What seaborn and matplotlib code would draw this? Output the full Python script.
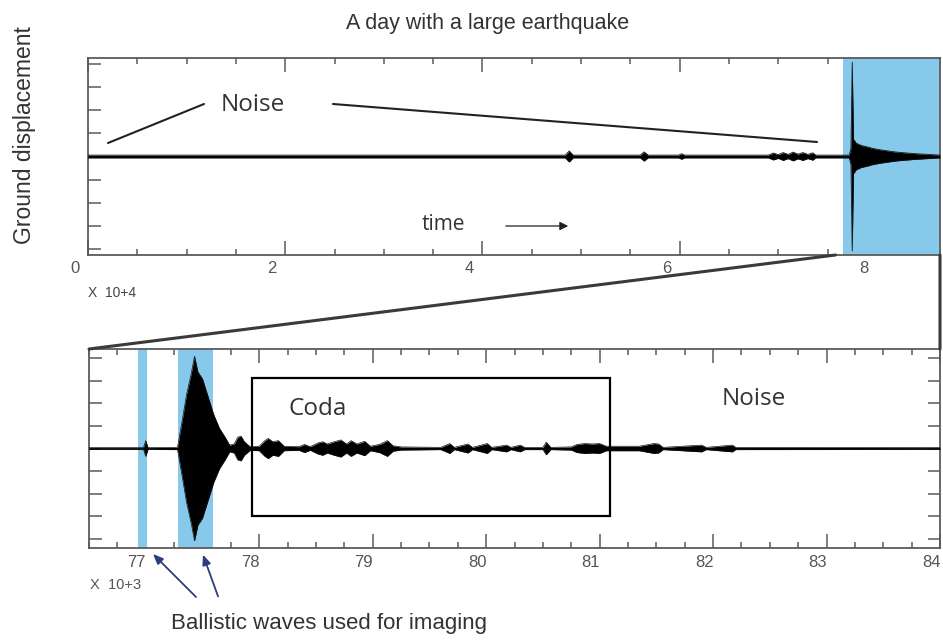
import numpy as np
import pandas as pd
import matplotlib
matplotlib.use("Agg")
import matplotlib.pyplot as plt
import matplotlib.transforms as mtrans
import seaborn as sns
from matplotlib.patches import Rectangle, ConnectionPatch, FancyArrowPatch
from matplotlib.lines import Line2D
from matplotlib.ticker import FixedLocator, MultipleLocator
from matplotlib import font_manager as fm

# ---------------- data ----------------
# Top panel: one day of ground displacement, time in units of 10^4 s
top_time = [0.00, 4.84, 4.88, 4.92, 5.60, 5.64, 5.68, 5.99, 6.02, 6.05,
            6.90, 6.95, 7.00, 7.05, 7.10, 7.15, 7.20, 7.25, 7.30, 7.35,
            7.38, 7.72, 7.737, 7.75, 7.763, 7.79, 7.84, 7.90, 7.96, 8.02,
            8.10, 8.18, 8.28, 8.40, 8.52, 8.64]
top_amp = [0.06, 0.06, 0.24, 0.06, 0.06, 0.20, 0.06, 0.06, 0.12, 0.06,
           0.06, 0.15, 0.08, 0.17, 0.09, 0.19, 0.10, 0.17, 0.09, 0.16,
           0.06, 0.06, 0.35, 4.10, 0.75, 0.58, 0.48, 0.42, 0.35, 0.30,
           0.25, 0.20, 0.16, 0.12, 0.09, 0.06]
top_xticks = [0, 2, 4, 6, 8]
top_xticklabels = ["0", "2", "4", "6", "8"]
top_span = (7.66, 8.64)

# Bottom panel: zoom on the earthquake, time in units of 10^3 s
bot_time = [76.50, 76.98, 77.00, 77.02, 77.28, 77.32, 77.36, 77.40, 77.43, 77.46,
            77.50, 77.55, 77.60, 77.65, 77.70, 77.74, 77.78, 77.81, 77.84, 77.87,
            77.92, 78.00, 78.05, 78.08, 78.12, 78.17, 78.22, 78.35, 78.40, 78.45,
            78.52, 78.56, 78.60, 78.66, 78.72, 78.77, 78.81, 78.86, 78.93, 78.98,
            79.06, 79.13, 79.18, 79.25, 79.60, 79.68, 79.72, 79.84, 79.88, 80.01,
            80.05, 80.18, 80.22, 80.30, 80.34, 80.50, 80.53, 80.57, 80.75, 80.80,
            80.87, 80.94, 81.00, 81.06, 81.25, 81.35, 81.48, 81.52, 81.56, 81.90,
            81.94, 82.17, 82.20, 84.00]
bot_amp = [0.04, 0.04, 0.35, 0.04, 0.05, 1.20, 2.40, 3.30, 4.10, 3.40,
           3.10, 2.30, 1.50, 0.90, 0.50, 0.15, 0.20, 0.50, 0.55, 0.30,
           0.08, 0.10, 0.35, 0.45, 0.30, 0.35, 0.10, 0.08, 0.18, 0.08,
           0.25, 0.30, 0.20, 0.30, 0.38, 0.20, 0.35, 0.20, 0.32, 0.10,
           0.18, 0.35, 0.12, 0.07, 0.05, 0.22, 0.05, 0.20, 0.05, 0.22,
           0.05, 0.15, 0.05, 0.15, 0.05, 0.05, 0.28, 0.05, 0.07, 0.18,
           0.22, 0.20, 0.22, 0.10, 0.10, 0.10, 0.22, 0.20, 0.05, 0.15,
           0.05, 0.15, 0.05, 0.04]
bot_xticks = [77, 78, 79, 80, 81, 82, 83, 84]
bot_xticklabels = ["77", "78", "79", "80", "81", "82", "83", "84"]
bot_spans = [(76.93, 77.01), (77.28, 77.59)]
coda_box = (77.94, -3.0, 81.09, 3.15)   # x0, y0, x1, y1

yticks = [-4, -3, -2, -1, 0, 1, 2, 3, 4]

# ---------------- fonts ----------------
def pick(*names):
    for n in names:
        try:
            fm.findfont(fm.FontProperties(family=n), fallback_to_default=False)
            return n
        except Exception:
            pass
    return "DejaVu Sans"

SANS = pick("Liberation Sans", "Arial")
NARROW = pick("Liberation Sans Narrow", "DejaVu Sans Condensed", "Liberation Sans")
OPEN = pick("Open Sans", "Noto Sans")

sns.set_theme(style="ticks")
plt.rcParams["font.family"] = [SANS, "DejaVu Sans"]

W, H = 943, 640
fig = plt.figure(figsize=(W / 100, H / 100), dpi=100)

def fp(x, y):
    return (x / W, 1 - y / H)

BLUE = "#87c9ea"
SPINE = "#5a5a5a"
TXT = "#333333"

ax_top = fig.add_axes([88 / W, 1 - 255 / H, (940 - 88) / W, (255 - 58) / H])
ax_bot = fig.add_axes([89 / W, 1 - 548 / H, (940 - 89) / W, (548 - 349) / H])


def draw_trace(ax, t, amp, lw):
    t = np.asarray(t, float)
    a = np.asarray(amp, float)
    ax.fill_between(t, -a, a, color="black", lw=0, zorder=3)
    df = pd.DataFrame({
        "t": np.concatenate([t, t]),
        "y": np.concatenate([a, -a]),
        "side": ["up"] * len(t) + ["lo"] * len(t),
    })
    sns.lineplot(data=df, x="t", y="y", units="side", estimator=None,
                 color="#111111", lw=lw, ax=ax, zorder=4, legend=False)
    ax.set_xlabel("")
    ax.set_ylabel("")


def style_axes(ax, xlim, ylim, major, labels, minor_step, dx_px, lsize, lfont, pad):
    ax.set_xlim(*xlim)
    ax.set_ylim(*ylim)
    ax.xaxis.set_major_locator(FixedLocator(major))
    ax.xaxis.set_minor_locator(MultipleLocator(minor_step))
    ax.set_xticklabels(labels, fontfamily=lfont)
    ax.set_yticks(yticks)
    ax.tick_params(axis="x", which="major", direction="in", length=10, width=1.1,
                   top=True, bottom=True, color=SPINE, labelcolor="#555555",
                   labelsize=lsize, pad=pad)
    ax.tick_params(axis="x", which="minor", direction="in", length=4.5, width=1.1,
                   top=True, bottom=True, color=SPINE)
    ax.tick_params(axis="y", which="major", direction="in", length=9, width=1.1,
                   left=True, right=True, labelleft=False, color=SPINE)
    for s in ax.spines.values():
        s.set_color(SPINE)
        s.set_linewidth(1.3)
        s.set_visible(True)
    off = mtrans.ScaledTranslation(dx_px / 100, 0, fig.dpi_scale_trans)
    for lab in ax.get_xticklabels():
        lab.set_transform(lab.get_transform() + off)
    ax.set_facecolor("white")


# top panel
ax_top.axvspan(*top_span, color=BLUE, lw=0, zorder=1)
draw_trace(ax_top, top_time, top_amp, 0.6)
style_axes(ax_top, (0, 8.64), (-4.28, 4.28), top_xticks, top_xticklabels, 0.5,
           -13, 12, SANS, 4.5)

# bottom panel
for s0, s1 in bot_spans:
    ax_bot.axvspan(s0, s1, color=BLUE, lw=0, zorder=1)
draw_trace(ax_bot, bot_time, bot_amp, 0.5)
style_axes(ax_bot, (76.5, 84.0), (-4.42, 4.42), bot_xticks, bot_xticklabels, 0.25,
           -9, 12, NARROW, 5)
x0, y0, x1, y1 = coda_box
ax_bot.add_patch(Rectangle((x0, y0), x1 - x0, y1 - y0, fill=False,
                           ec="black", lw=1.6, zorder=5))

# connectors between panels
for xa, xb in [(7.58, 76.5), (8.64, 84.0)]:
    con = ConnectionPatch(xyA=(xa, -4.28), coordsA=ax_top.transData,
                          xyB=(xb, 4.42), coordsB=ax_bot.transData,
                          color="#3a3a3a", lw=2.2, zorder=6)
    fig.add_artist(con)

# texts
fig.text(*fp(488, 24), "A day with a large earthquake", ha="center", va="center",
         fontsize=15.5, color=TXT, family=SANS)
fig.text(*fp(25, 135), "Ground displacement", ha="center", va="center",
         rotation=90, fontsize=16.5, color=TXT, family=SANS)
fig.text(*fp(221, 105), "Noise", ha="left", va="center", fontsize=17.5,
         color=TXT, family=OPEN)
fig.text(*fp(422, 224), "time", ha="left", va="center", fontsize=15,
         color=TXT, family=OPEN)
fig.text(*fp(88, 293), "X  10+4", ha="left", va="center", fontsize=10,
         color="#444444", family=NARROW)
fig.text(*fp(90, 585), "X  10+3", ha="left", va="center", fontsize=10.5,
         color="#555555", family=NARROW)
fig.text(*fp(289, 409), "Coda", ha="left", va="center", fontsize=17.5,
         color=TXT, family=OPEN)
fig.text(*fp(722, 399), "Noise", ha="left", va="center", fontsize=17.5,
         color=TXT, family=OPEN)
fig.text(*fp(171, 624), "Ballistic waves used for imaging", ha="left",
         va="center", fontsize=16, color=TXT, family=SANS)

# pointer lines in top panel
for (xa, ya), (xb, yb) in [((108, 143), (204, 104)), ((333, 104), (817, 142))]:
    fig.add_artist(Line2D([xa / W, xb / W], [1 - ya / H, 1 - yb / H],
                          transform=fig.transFigure, color="#222222", lw=1.5))

# time arrow
fig.add_artist(FancyArrowPatch(fp(503, 226), fp(571, 226), transform=fig.transFigure,
                               arrowstyle="-|>,head_length=5,head_width=2.5",
                               color="#222222", lw=0.9, mutation_scale=1))

# ballistic arrows
for start, end in [((198, 599), (151, 552)), ((219, 599), (202, 552))]:
    fig.add_artist(FancyArrowPatch(fp(*start), fp(*end), transform=fig.transFigure,
                                   arrowstyle="-|>,head_length=6,head_width=2.5",
                                   color="#2e3d7e", lw=1.3, mutation_scale=1))

fig.savefig("out.png", dpi=100, facecolor="white")
